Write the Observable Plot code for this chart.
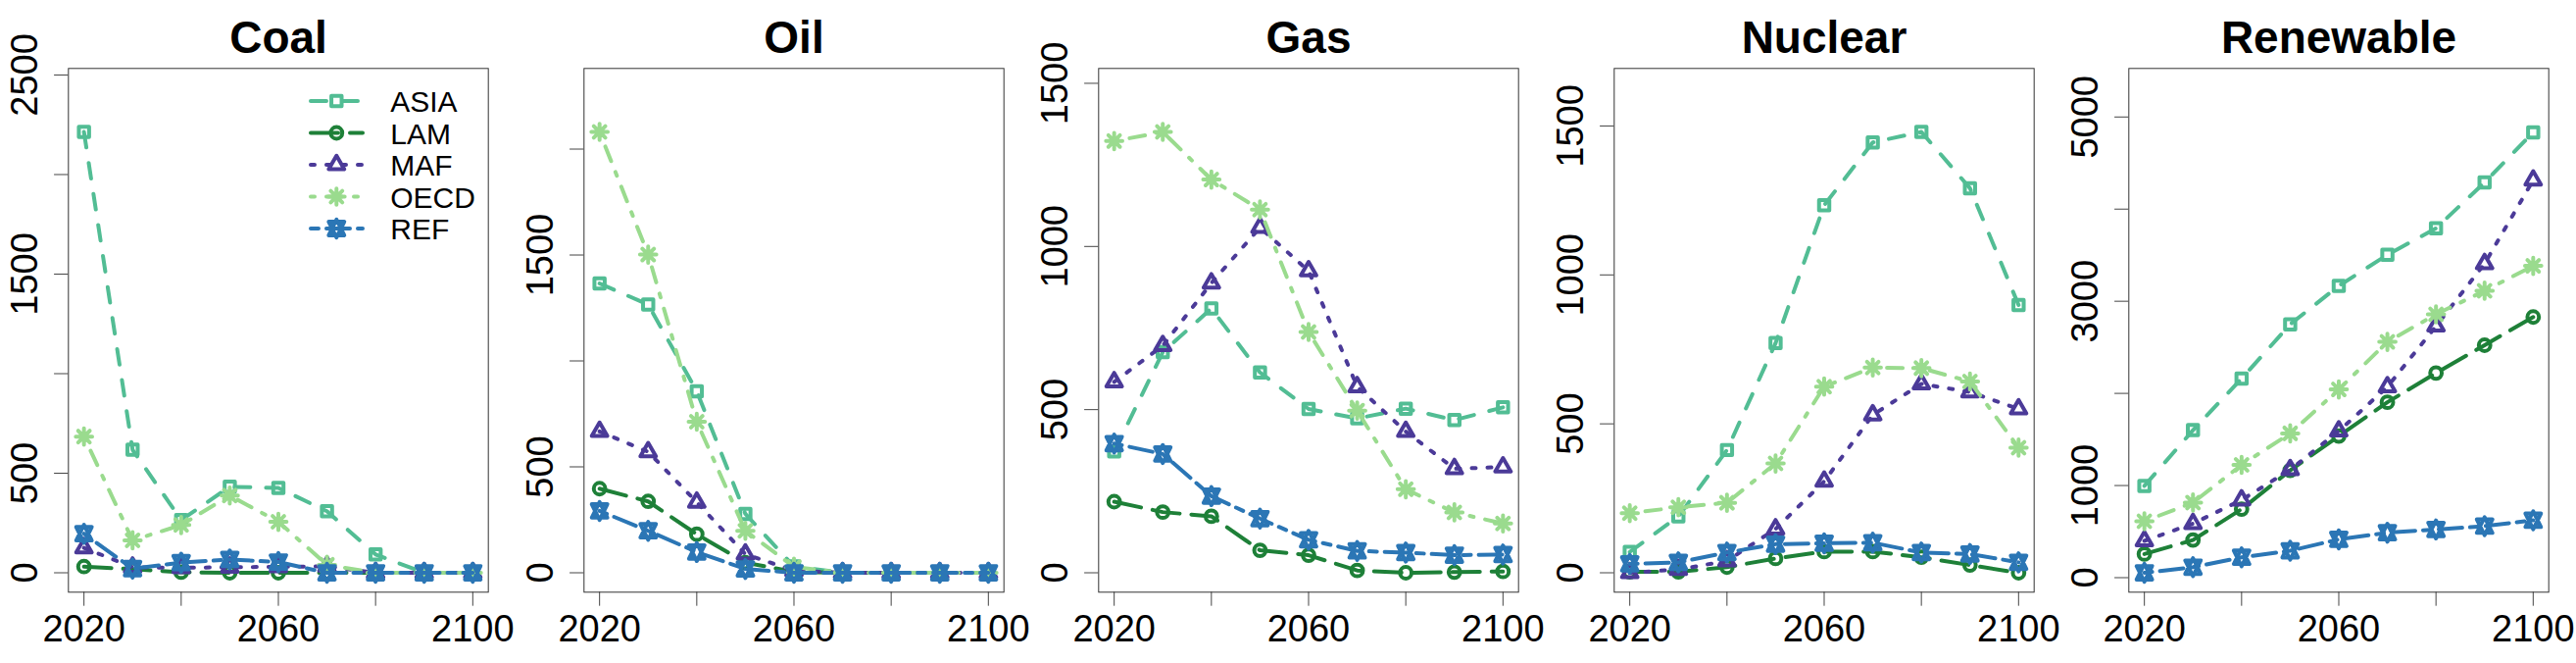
<!DOCTYPE html>
<html>
<head>
<meta charset="utf-8">
<script src="https://cdn.jsdelivr.net/npm/d3@7"></script>
<script src="https://cdn.jsdelivr.net/npm/@observablehq/plot@0.6"></script>
<style>
  html, body { margin: 0; padding: 0; background: #fff; }
  #row { display: flex; width: 2628px; height: 676px; }
  .panel { width: 525.6px; height: 676px; flex: none; position: relative; }
  .panel svg { overflow: visible; display: block; }
</style>
</head>
<body>
<div id="row"></div>
<script>
// ---------- data ----------
const years = [2020, 2030, 2040, 2050, 2060, 2070, 2080, 2090, 2100];
const regions = ["ASIA", "LAM", "MAF", "OECD", "REF"];
const fuels = ["Coal", "Oil", "Gas", "Nuclear", "Renewable"];

// rows follow `regions` order: ASIA, LAM, MAF, OECD, REF
const coal = [
  [2214, 618, 265, 432, 426, 309, 92, 0, 0],
  [31, 18, 3, 0, 0, 0, 0, 0, 0],
  [125, 28, 25, 28, 30, 32, 0, 0, 0],
  [684, 163, 240, 388, 256, 40, 0, 0, 0],
  [196, 21, 51, 67, 54, 0, 0, 0, 0]
];
const oil = [
  [1366, 1266, 857, 278, 30, 0, 0, 0, 0],
  [397, 337, 182, 48, 5, 0, 0, 0, 0],
  [667, 571, 333, 88, 10, 0, 0, 0, 0],
  [2081, 1502, 713, 198, 28, 0, 0, 0, 0],
  [292, 198, 98, 18, 0, 0, 0, 0, 0]
];
const gas = [
  [372, 676, 810, 614, 502, 473, 503, 468, 507],
  [218, 186, 173, 69, 54, 7, 0, 2, 4],
  [585, 696, 888, 1058, 925, 570, 433, 319, 324],
  [1323, 1351, 1205, 1113, 738, 497, 256, 185, 151],
  [396, 364, 235, 166, 101, 67, 62, 54, 56]
];
const nuclear = [
  [70, 189, 412, 771, 1234, 1445, 1480, 1291, 899],
  [3, 3, 19, 48, 71, 71, 52, 26, 0],
  [0, 11, 40, 147, 307, 530, 634, 607, 550],
  [200, 220, 235, 367, 625, 689, 687, 642, 420],
  [30, 35, 68, 96, 99, 101, 68, 63, 35]
];
const renewable = [
  [996, 1601, 2160, 2750, 3167, 3504, 3792, 4290, 4833],
  [256, 409, 744, 1164, 1537, 1904, 2221, 2523, 2829],
  [399, 587, 843, 1171, 1591, 2071, 2730, 3408, 4314],
  [612, 815, 1224, 1566, 2043, 2559, 2858, 3114, 3384],
  [53, 114, 221, 292, 416, 488, 523, 559, 623]
];

const xTicks = [2020, 2040, 2060, 2080, 2100];
const xTickLabels = [2020, 2060, 2100];
const yTicksCoal = [0, 500, 1000, 1500, 2000, 2500];
const yLabelsCoal = [0, 500, 1500, 2500];
const yTicksOil = [0, 500, 1000, 1500, 2000];
const yLabelsOil = [0, 500, 1500];
const yTicksGas = [0, 500, 1000, 1500];
const yLabelsGas = [0, 500, 1000, 1500];
const yTicksNuclear = [0, 500, 1000, 1500];
const yLabelsNuclear = [0, 500, 1000, 1500];
const yTicksRenewable = [0, 1000, 2000, 3000, 4000, 5000];
const yLabelsRenewable = [0, 1000, 3000, 5000];

// ---------- styles ----------
const colors = ["#52BD94", "#1E8038", "#4B3A98", "#9ADB8E", "#2B76B5"];
const dashes = ["16,16", "28,12", "4,12", "4,12,16,12", "8,8,24,8"];
const LW = 4;
const R = 5.9;
const FONT = "'Liberation Sans', Arial, Helvetica, sans-serif";

// R-like plotting symbols (pch 0, 1, 2, 8, 11)
function rad(size) { return Math.sqrt(size / Math.PI); }
const symSquare = { draw(c, size) { const h = 0.886 * rad(size); c.moveTo(-h, -h); c.lineTo(h, -h); c.lineTo(h, h); c.lineTo(-h, h); c.closePath(); } };
const symCircle = { draw(c, size) { const r = rad(size); c.moveTo(r, 0); c.arc(0, 0, r, 0, 2 * Math.PI); c.closePath(); } };
const symTriangle = { draw(c, size) { const r = 1.555 * rad(size); const xc = r * 0.866; c.moveTo(0, -r); c.lineTo(xc, r / 2); c.lineTo(-xc, r / 2); c.closePath(); } };
const symAsterisk = { draw(c, size) { const s = rad(size); const p = Math.SQRT2 * s;
  c.moveTo(-s, -s); c.lineTo(s, s); c.moveTo(-s, s); c.lineTo(s, -s);
  c.moveTo(-p, 0); c.lineTo(p, 0); c.moveTo(0, -p); c.lineTo(0, p); } };
const symStar = { draw(c, size) { const r = 1.555 * rad(size); const xc = r * 0.866; const yc = 0.75 * r;
  c.moveTo(0, -r); c.lineTo(xc, yc); c.lineTo(-xc, yc); c.closePath();
  c.moveTo(0, r); c.lineTo(xc, -yc); c.lineTo(-xc, -yc); c.closePath(); } };
const symbols = [symSquare, symCircle, symTriangle, symAsterisk, symStar];

// ---------- layout ----------
const W = 525.6, H = 676;
const mL = 69.3, mR = W - 497.7, mT = 69.3, mB = H - 603.3;

function makePanel(title, values, yTicks, yLabels, withLegend) {
  const all = values.flat();
  const lo = d3.min(all), hi = 1.1 * d3.max(all);
  const ext = 0.04 * (hi - lo);
  const marks = [];
  values.forEach((vals, i) => {
    const d = years.map((yr, j) => ({region: regions[i], year: yr, value: vals[j]}));
    marks.push(Plot.line(d, {x: "year", y: "value", stroke: colors[i], strokeWidth: LW,
      strokeDasharray: dashes[i], strokeLinecap: "round", strokeLinejoin: "round"}));
    marks.push(Plot.dot(d, {x: "year", y: "value", stroke: colors[i], strokeWidth: LW,
      fill: "none", r: R, symbol: symbols[i], strokeLinecap: "round", strokeLinejoin: "round"}));
  });
  const svg = Plot.plot({
    width: W, height: H,
    marginLeft: mL, marginRight: mR, marginTop: mT, marginBottom: mB,
    style: {fontFamily: FONT, background: "white", overflow: "visible"},
    x: {domain: [2020 - 3.2, 2100 + 3.2]},
    y: {domain: [lo - ext, hi + ext]},
    marks: [
      Plot.axisX({ticks: xTicks, tickSize: 14.4, tickPadding: 9, fontSize: 38, color: "#000",
        stroke: "#444", tickFormat: d => xTickLabels.includes(d) ? String(d) : "", label: null}),
      Plot.axisY({ticks: yTicks, tickSize: 14.2, stroke: "#444", tickFormat: () => "", label: null}),
      Plot.text(yLabels, {y: d => d, text: d => String(d), frameAnchor: "left", dx: -32.3,
        rotate: -90, textAnchor: "middle", lineAnchor: "bottom", fontSize: 38, fill: "#000"}),
      Plot.text([title], {text: d => d, frameAnchor: "top", dy: -15.3, lineAnchor: "bottom",
        fontSize: 46, fontWeight: "bold", fill: "#000"}),
      ...marks,
      Plot.frame({stroke: "#333", strokeWidth: 1})
    ]
  });
  if (withLegend) {
    const g = d3.select(svg).append("g").attr("font-family", FONT).attr("text-anchor", "start");
    regions.forEach((name, i) => {
      const y = 103 + i * 32.5;
      g.append("line").attr("x1", 317).attr("x2", 370).attr("y1", y).attr("y2", y)
        .attr("stroke", colors[i]).attr("stroke-width", LW).attr("stroke-dasharray", dashes[i])
        .attr("stroke-linecap", "round");
      const p = d3.path(); symbols[i].draw(p, R * R * Math.PI);
      g.append("path").attr("d", p.toString()).attr("transform", `translate(343.3,${y})`)
        .attr("fill", "none").attr("stroke", colors[i]).attr("stroke-width", LW)
        .attr("stroke-linejoin", "round").attr("stroke-linecap", "round");
      g.append("text").attr("x", 398.3).attr("y", y + 11.5).attr("font-size", 30)
        .attr("text-anchor", "start").attr("fill", "#000").text(name);
    });
  }
  const div = document.createElement("div");
  div.className = "panel";
  div.appendChild(svg);
  document.getElementById("row").appendChild(div);
}

makePanel(fuels[0], coal, yTicksCoal, yLabelsCoal, true);
makePanel(fuels[1], oil, yTicksOil, yLabelsOil, false);
makePanel(fuels[2], gas, yTicksGas, yLabelsGas, false);
makePanel(fuels[3], nuclear, yTicksNuclear, yLabelsNuclear, false);
makePanel(fuels[4], renewable, yTicksRenewable, yLabelsRenewable, false);
</script>
</body>
</html>
